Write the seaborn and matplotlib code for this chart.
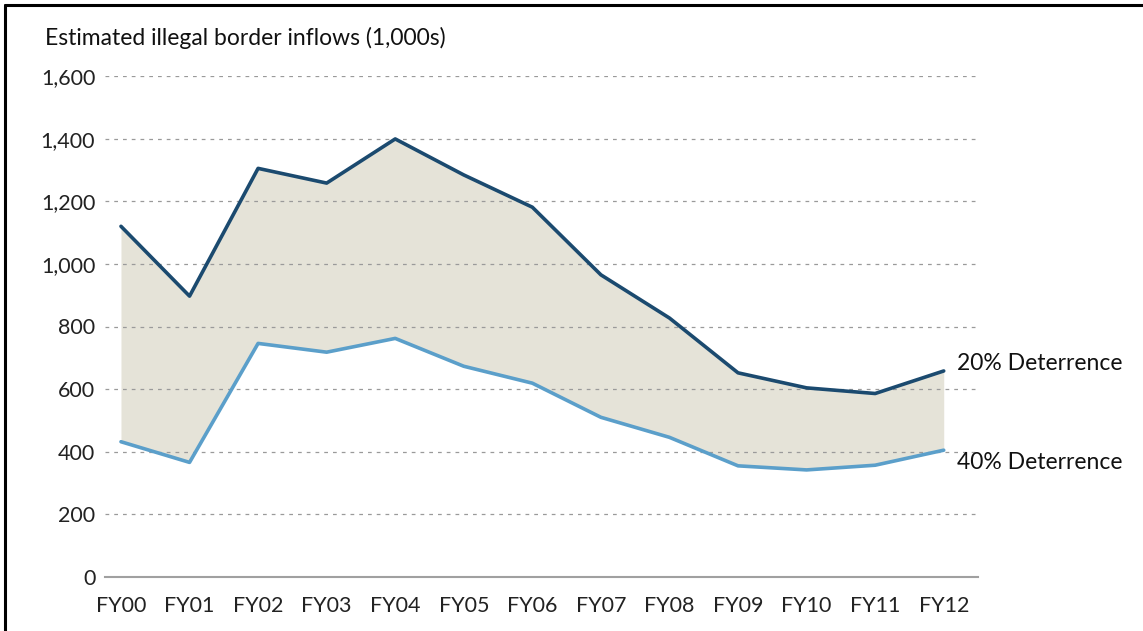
import seaborn as sns
import pandas as pd
import matplotlib.pyplot as plt
import matplotlib.lines as mlines

years = ['FY00', 'FY01', 'FY02', 'FY03', 'FY04', 'FY05', 'FY06',
         'FY07', 'FY08', 'FY09', 'FY10', 'FY11', 'FY12']
deter_20 = [1120, 897, 1305, 1258, 1399, 1284, 1181, 965, 827, 652, 604, 586, 658]
deter_40 = [432, 366, 746, 718, 762, 673, 619, 510, 446, 355, 342, 357, 405]
y_ticks = [0, 200, 400, 600, 800, 1000, 1200, 1400, 1600]

DARK = '#1b4a6f'
LIGHT = '#5b9fca'
FILL = '#e5e3d8'

sns.set_style('white')
plt.rcParams['font.family'] = ['Lato', 'DejaVu Sans']

df = pd.DataFrame({'x': range(len(years)), 'd20': deter_20, 'd40': deter_40})

fig = plt.figure(figsize=(11.43, 6.31), dpi=100)
ax = fig.add_axes([105 / 1143, 1 - 577 / 631, (978 - 105) / 1143, (577 - 76) / 631])

ax.fill_between(df['x'], df['d40'], df['d20'], color=FILL, lw=0, zorder=1)
sns.lineplot(data=df, x='x', y='d20', color=DARK, lw=2.6, ax=ax, zorder=3)
sns.lineplot(data=df, x='x', y='d40', color=LIGHT, lw=2.6, ax=ax, zorder=3)

ax.set_xlim(-0.233, 12.5)
ax.set_ylim(0, 1600)
ax.set_yticks(y_ticks)
ax.set_yticklabels(['{:,}'.format(v) for v in y_ticks])
ax.set_xticks(range(len(years)))
ax.set_xticklabels(years)
ax.set_xlabel('')
ax.set_ylabel('')

for v in y_ticks[1:]:
    ax.axhline(v, color='#9a9a9a', lw=0.9, ls=(0, (3, 4)), zorder=2)

for s in ['top', 'right', 'left']:
    ax.spines[s].set_visible(False)
ax.spines['bottom'].set_color('#a0a0a0')
ax.spines['bottom'].set_linewidth(1.5)

ax.tick_params(axis='x', length=9, width=1.2, color='#a0a0a0', direction='out',
               labelsize=15.5, pad=5, labelcolor='#222222')
ax.tick_params(axis='y', length=0, labelsize=15.5, pad=7, labelcolor='#222222')

ax.text(12.2, 682, '20% Deterrence', fontsize=16.5, va='center', ha='left', color='#111111')
ax.text(12.2, 366, '40% Deterrence', fontsize=16.5, va='center', ha='left', color='#111111')

fig.text(45 / 1143, 1 - 38 / 631, 'Estimated illegal border inflows (1,000s)',
         fontsize=16.5, va='center', ha='left', color='#111111')

# outer frame (left + top)
fig.add_artist(mlines.Line2D([5 / 1143, 5 / 1143], [0, 1 - 5 / 631], color='black', lw=2.2,
                             transform=fig.transFigure))
fig.add_artist(mlines.Line2D([5 / 1143, 1], [1 - 5 / 631, 1 - 5 / 631], color='black', lw=2.2,
                             transform=fig.transFigure))

fig.savefig('out.png', dpi=100)
